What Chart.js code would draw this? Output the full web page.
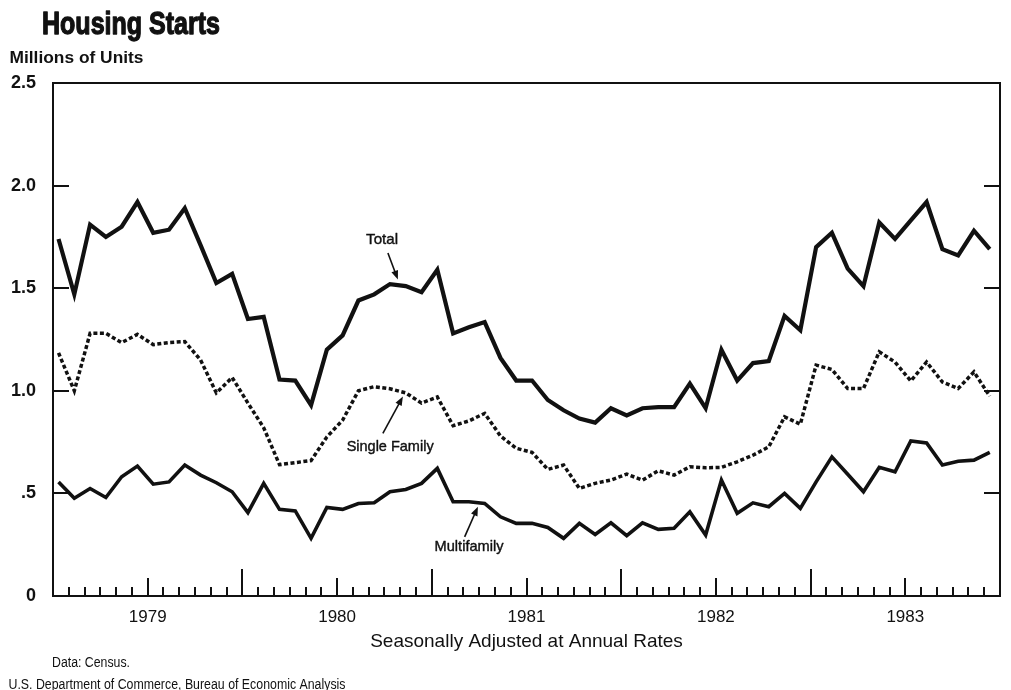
<!DOCTYPE html>
<html>
<head>
<meta charset="utf-8">
<script src="https://cdn.jsdelivr.net/npm/chart.js@4.4.1/dist/chart.umd.min.js"></script>
<style>
  html, body { margin: 0; padding: 0; background: #fff; }
  canvas { display: block; }
</style>
</head>
<body>
<canvas id="chart" width="1011" height="690"></canvas>
<script>
// monthly, Jan 1979 - Dec 1983, millions of units (SAAR)
const years = ['1979', '1980', '1981', '1982', '1983'];
const yTickLabels = ['0', '.5', '1.0', '1.5', '2.0', '2.5'];

const total = [
  1.74, 1.47, 1.81, 1.75, 1.80, 1.92, 1.77, 1.785, 1.89, 1.71, 1.525, 1.57,
  1.35, 1.36, 1.055, 1.05, 0.93, 1.20, 1.27, 1.44, 1.47, 1.52, 1.51, 1.48,
  1.59, 1.28, 1.31, 1.335, 1.16, 1.05, 1.05, 0.955, 0.905, 0.865, 0.845, 0.915,
  0.88, 0.915, 0.92, 0.92, 1.035, 0.915, 1.20, 1.05, 1.135, 1.145, 1.365, 1.295,
  1.70, 1.77, 1.595, 1.51, 1.82, 1.74, 1.83, 1.92, 1.69, 1.66, 1.78, 1.69
];
const singleFamily = [
  1.185, 1.00, 1.28, 1.28, 1.235, 1.275, 1.225, 1.235, 1.24, 1.15, 0.99, 1.065,
  0.94, 0.82, 0.64, 0.65, 0.66, 0.775, 0.857, 1.00, 1.02, 1.01, 0.99, 0.94,
  0.97, 0.83, 0.853, 0.89, 0.78, 0.72, 0.70, 0.617, 0.638, 0.524, 0.549, 0.565,
  0.594, 0.565, 0.61, 0.589, 0.63, 0.625, 0.627, 0.654, 0.686, 0.727, 0.873, 0.837,
  1.125, 1.104, 1.011, 1.011, 1.19, 1.14, 1.048, 1.14, 1.043, 1.011, 1.092, 0.974
];
const multifamily = [
  0.556, 0.476, 0.524, 0.48, 0.581, 0.633, 0.545, 0.556, 0.638, 0.589, 0.552, 0.508,
  0.406, 0.549, 0.422, 0.415, 0.281, 0.432, 0.422, 0.451, 0.454, 0.508, 0.519, 0.549,
  0.622, 0.459, 0.459, 0.451, 0.386, 0.354, 0.354, 0.334, 0.281, 0.354, 0.30, 0.357,
  0.294, 0.357, 0.325, 0.33, 0.41, 0.297, 0.565, 0.403, 0.454, 0.435, 0.50, 0.427,
  0.556, 0.678, 0.593, 0.508, 0.627, 0.605, 0.756, 0.746, 0.638, 0.657, 0.662, 0.70
];

// series call-outs, in (month index, value) space
const callouts = [
  { text: 'Total', at: [20.5, 1.737], from: [20.87, 1.672], to: [21.5, 1.542], width: 32 },
  { text: 'Single Family', at: [21.01, 0.728], from: [20.55, 0.793], to: [21.82, 0.972], width: 87 },
  { text: 'Multifamily', at: [26.01, 0.240], from: [25.73, 0.288], to: [26.57, 0.435], width: 69 }
];

const ink = '#111';
const sans = '"Liberation Sans", Arial, Helvetica, sans-serif';
const narrow = '"Liberation Sans Narrow", "Arial Narrow", "Liberation Sans", sans-serif';

const toPoints = arr => arr.map((v, i) => ({ x: i, y: v }));

// draw text squeezed/stretched to a given width
function fitText(ctx, text, x, y, width, font, align, baseline, thicken) {
  ctx.save();
  ctx.font = font;
  ctx.textAlign = align || 'left';
  ctx.textBaseline = baseline || 'alphabetic';
  const w = ctx.measureText(text).width;
  ctx.translate(x, y);
  ctx.scale(width / w, 1);
  ctx.fillText(text, 0, 0);
  if (thicken) {
    ctx.lineWidth = thicken;
    ctx.lineJoin = 'round';
    ctx.strokeText(text, 0, 0);
  }
  ctx.restore();
}

const frame = {
  id: 'frame',
  afterDraw(chart) {
    const { ctx, chartArea: a, scales } = chart;
    const xm = scales.x, y = scales.y, xd = scales.xd;
    ctx.save();
    ctx.strokeStyle = ink;
    ctx.fillStyle = ink;

    ctx.lineWidth = 2;
    ctx.strokeRect(a.left, a.top, a.right - a.left, a.bottom - a.top);

    // inward tick marks
    ctx.beginPath();
    for (let k = 1; k < 60; k++) {
      const px = Math.round(xm.getPixelForValue(k));
      const len = k % 12 === 0 ? 27 : (k % 12 === 6 ? 18 : 9);
      ctx.moveTo(px, a.bottom);
      ctx.lineTo(px, a.bottom - len);
    }
    for (let i = 1; i < yTickLabels.length - 1; i++) {
      const py = Math.round(y.getPixelForValue(i * 0.5));
      ctx.moveTo(a.left, py); ctx.lineTo(a.left + 16, py);
      ctx.moveTo(a.right, py); ctx.lineTo(a.right - 16, py);
    }
    ctx.stroke();

    // call-outs with arrows
    ctx.lineWidth = 1.6;
    callouts.forEach(c => {
      fitText(ctx, c.text, xd.getPixelForValue(c.at[0]), y.getPixelForValue(c.at[1]),
        c.width, `15px ${narrow}`, 'center', 'middle', 0.4);
      const x0 = xd.getPixelForValue(c.from[0]), y0 = y.getPixelForValue(c.from[1]);
      const x1 = xd.getPixelForValue(c.to[0]), y1 = y.getPixelForValue(c.to[1]);
      const ang = Math.atan2(y1 - y0, x1 - x0);
      ctx.beginPath();
      ctx.moveTo(x0, y0);
      ctx.lineTo(x1 - 6 * Math.cos(ang), y1 - 6 * Math.sin(ang));
      ctx.stroke();
      ctx.beginPath();
      ctx.moveTo(x1, y1);
      ctx.lineTo(x1 - 9 * Math.cos(ang) + 3.5 * Math.sin(ang), y1 - 9 * Math.sin(ang) - 3.5 * Math.cos(ang));
      ctx.lineTo(x1 - 9 * Math.cos(ang) - 3.5 * Math.sin(ang), y1 - 9 * Math.sin(ang) + 3.5 * Math.cos(ang));
      ctx.closePath();
      ctx.fill();
    });

    // heading and notes
    fitText(ctx, 'Housing Starts', 42, 33.5, 178, `bold 32px ${narrow}`, 'left', 'alphabetic', 1.3);
    fitText(ctx, 'Millions of Units', 9.5, 63, 134, `bold 17px ${sans}`);
    fitText(ctx, 'Data: Census.', 52, 667, 78, `14px ${narrow}`);
    fitText(ctx, 'U.S. Department of Commerce, Bureau of Economic Analysis', 8.5, 689, 337, `14px ${narrow}`);
    ctx.restore();
  }
};

new Chart(document.getElementById('chart'), {
  type: 'line',
  data: {
    datasets: [
      { label: 'Total', data: toPoints(total), borderColor: ink, borderWidth: 4.2, xAxisID: 'xd' },
      { label: 'Single Family', data: toPoints(singleFamily), borderColor: ink, borderWidth: 3.5,
        borderDash: [4, 2.5], xAxisID: 'xd' },
      { label: 'Multifamily', data: toPoints(multifamily), borderColor: ink, borderWidth: 3.6, xAxisID: 'xd' }
    ]
  },
  options: {
    responsive: false,
    animation: false,
    devicePixelRatio: 1,
    layout: { padding: { top: 83, right: 10, left: 0, bottom: 0 } },
    elements: {
      point: { radius: 0 },
      line: { tension: 0, borderJoinStyle: 'miter', borderCapStyle: 'butt', fill: false }
    },
    plugins: { legend: { display: false }, tooltip: { enabled: false } },
    scales: {
      xd: { type: 'linear', display: false, min: -0.35, max: 59.65 },
      x: {
        type: 'linear',
        position: 'bottom',
        min: 0,
        max: 60,
        grid: { display: false, drawTicks: false },
        border: { display: false },
        afterFit: s => { s.height = 94; },
        afterBuildTicks: s => { s.ticks = Array.from({ length: 61 }, (_, k) => ({ value: k })); },
        ticks: {
          autoSkip: false,
          maxRotation: 0,
          padding: 11,
          color: ink,
          font: { family: sans, size: 17 },
          callback: v => (v % 12 === 6 ? years[(v - 6) / 12] : '')
        },
        title: {
          display: true,
          text: 'Seasonally Adjusted at Annual Rates',
          color: ink,
          font: { family: sans, size: 19 },
          padding: { top: 0, bottom: 37 }
        }
      },
      y: {
        min: 0,
        max: 2.5,
        afterFit: s => { s.width = 53; },
        grid: { display: false, drawTicks: false },
        border: { display: false },
        ticks: {
          stepSize: 0.5,
          padding: 17,
          color: ink,
          font: { family: sans, size: 18, weight: 'bold' },
          callback: v => yTickLabels[Math.round(v / 0.5)]
        }
      }
    }
  },
  plugins: [frame]
});
</script>
</body>
</html>
